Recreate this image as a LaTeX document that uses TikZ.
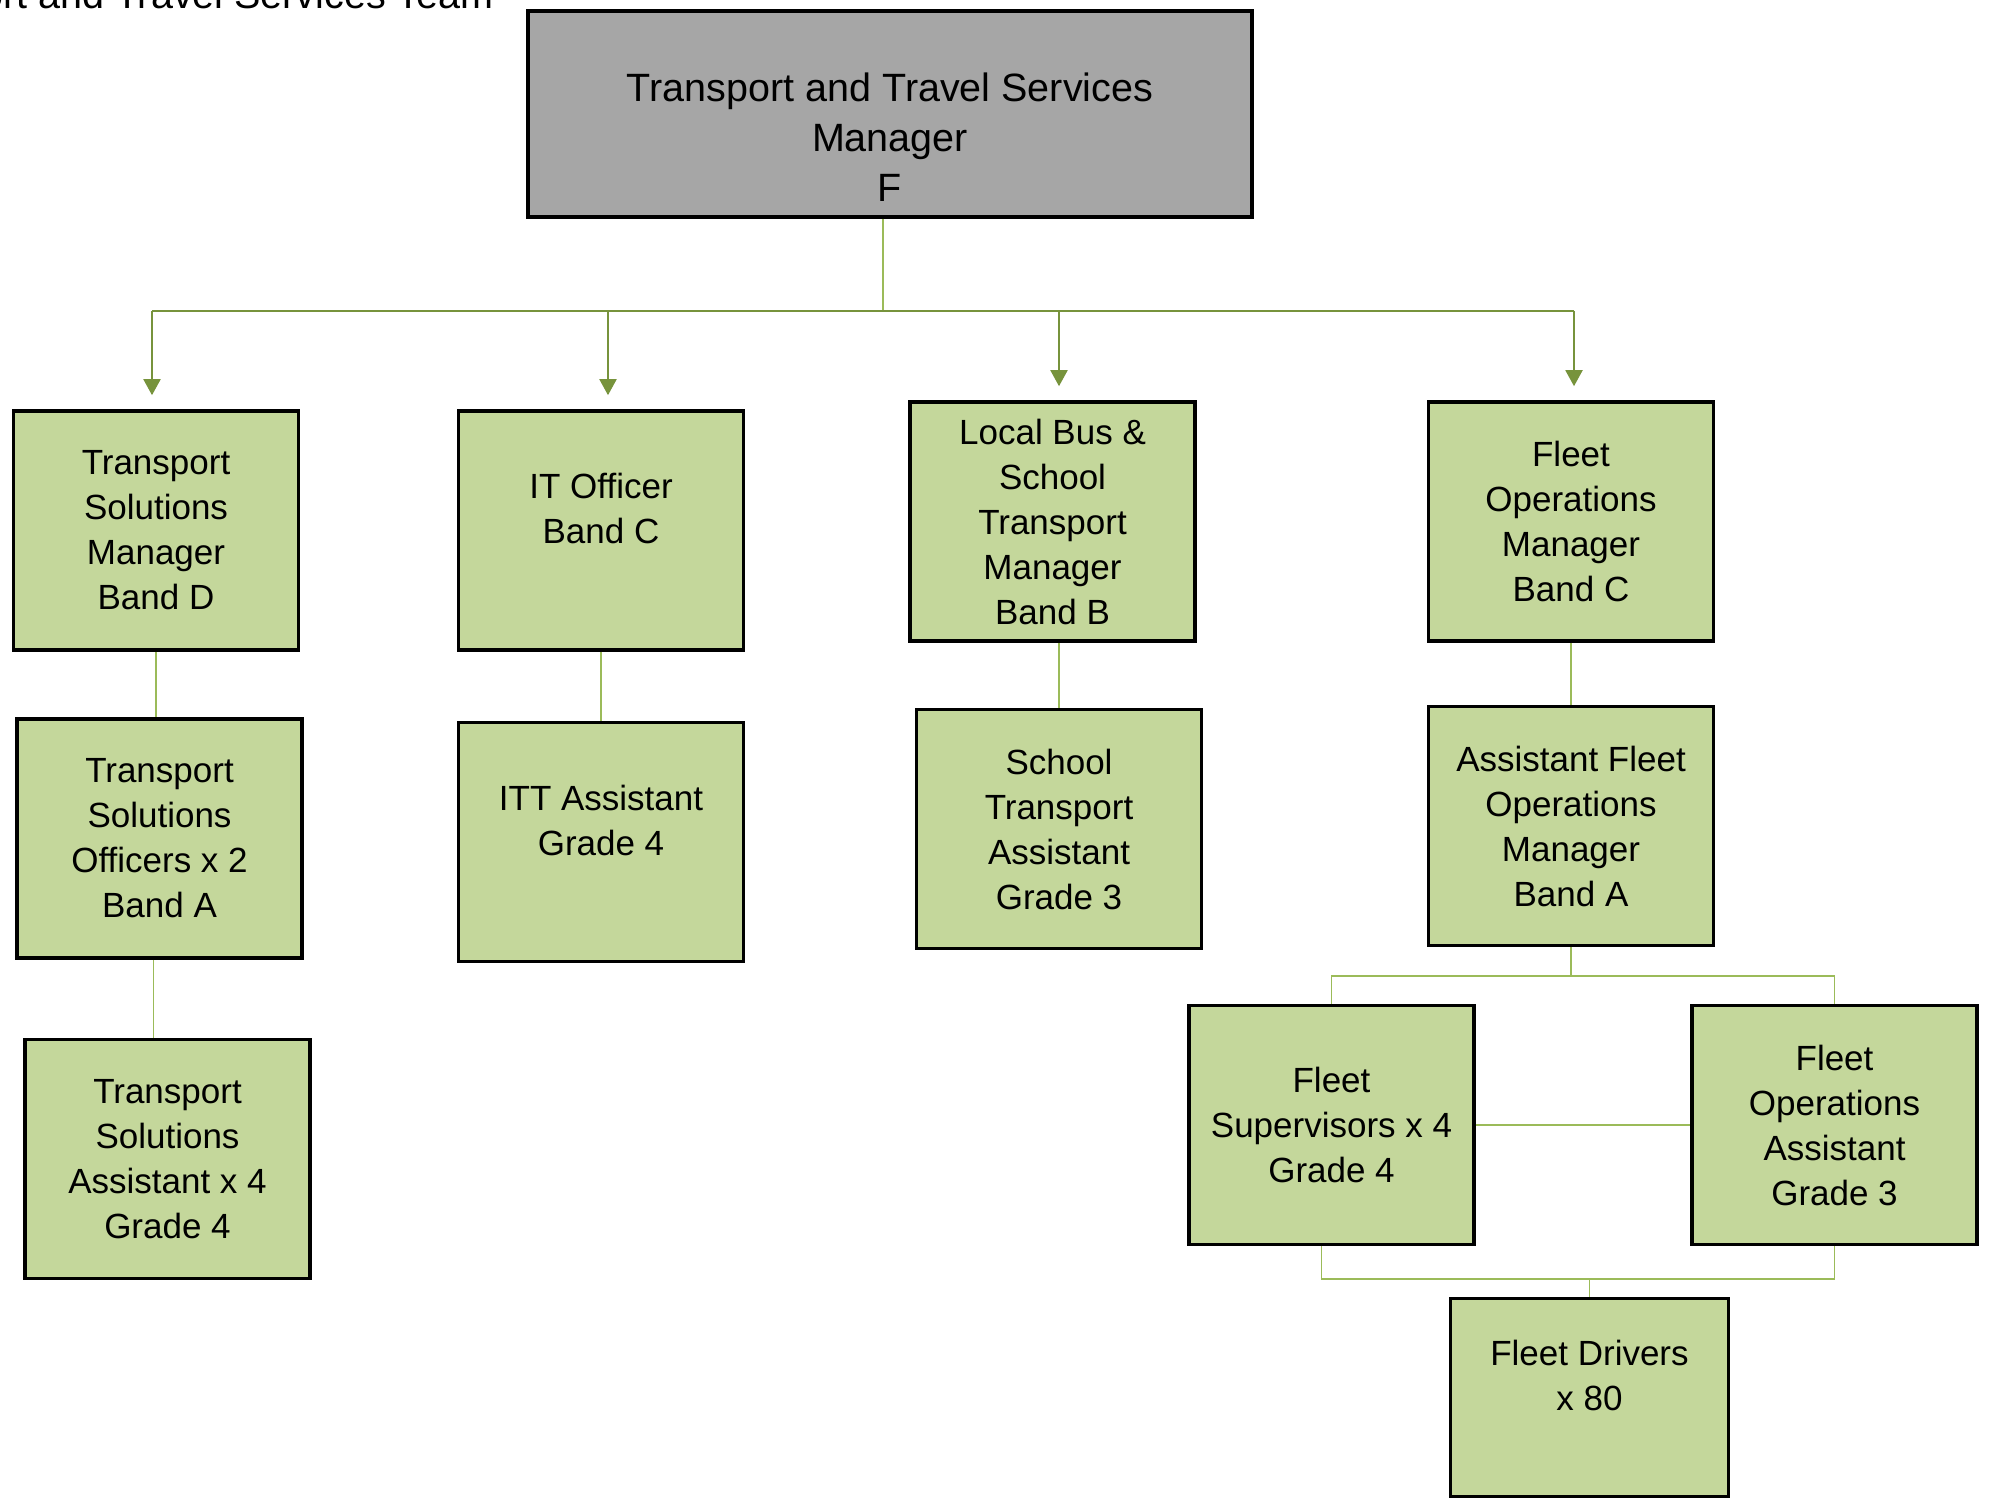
\documentclass[tikz,border=0pt]{standalone}
\usepackage{fontspec}
\setmainfont{Liberation Sans}
\usepackage{tikz}
\usetikzlibrary{arrows.meta}
\usetikzlibrary{positioning}

\definecolor{boxgreen}{HTML}{C4D79B}
\definecolor{boxgrey}{HTML}{A6A6A6}
\definecolor{linkgreen}{HTML}{9BBB59}
\definecolor{arrowgreen}{HTML}{77933C}

\begin{document}
\begin{tikzpicture}[x=0.5pt,y=-0.5pt,
	main node/.style={rectangle,draw=black,line width=1.8pt,fill=boxgreen,
		minimum width=142.5pt,minimum height=119.5pt,inner sep=0pt,align=center,
		font=\fontsize{17.5}{22.5}\selectfont},
	head node/.style={main node,fill=boxgrey,minimum width=362pt,minimum height=103pt,
		font=\fontsize{19.75}{25}\selectfont},
	link/.style={draw=linkgreen,line width=0.8pt},
	bus link/.style={draw=arrowgreen,line width=1pt},
	arrow link/.style={bus link,-{Triangle[width=8.5pt,length=8pt]},shorten >=7pt}]

	\useasboundingbox (0,0) rectangle (1997,1502);

	% heading, cut off by the page edge
	\begin{scope}
	\clip (0,0) rectangle (1997,1502);
	\node[anchor=base east,inner sep=0pt,font=\fontsize{19.75}{25}\selectfont] (team) at (494,9) {Transport and Travel Services Team};
	\end{scope}

	\node[head node] (ttsm) at (890,114) {\strut\\[-5pt]Transport and Travel Services\\Manager\\F};

	\node[main node] (tsm) at (156,530.5) {Transport\\Solutions\\Manager\\Band D};
	\node[main node] (ito) at (601,530.5) {IT Officer\\Band C\\[-7.5pt]\strut};
	\node[main node] (lbs) at (1052.5,521.5) {Local Bus \&\\School\\Transport\\Manager\\Band B};
	\node[main node] (fom) at (1571,521.5) {Fleet\\Operations\\Manager\\Band C};

	\node[main node] (tso) at (159.5,838.5) {Transport\\Solutions\\Officers x 2\\Band A};
	\node[main node] (itt) at (601,842) {ITT Assistant\\Grade 4\\[-7.5pt]\strut};
	\node[main node] (sta) at (1059,829) {School\\Transport\\Assistant\\Grade 3};
	\node[main node] (afom) at (1571,826) {Assistant Fleet\\Operations\\Manager\\Band A};

	\node[main node] (tsa) at (167.5,1159) {Transport\\Solutions\\Assistant x 4\\Grade 4};
	\node[main node] (fsu) at (1331.5,1125) {Fleet\\Supervisors x 4\\Grade 4};
	\node[main node] (foa) at (1834.5,1125) {Fleet\\Operations\\Assistant\\Grade 3};
	\node[main node,minimum width=139pt,minimum height=99pt] (fdr) at (1589.5,1397.5) {Fleet Drivers\\x 80\\[-7.5pt]\strut};

	% top level
	\coordinate (hub) at (883,311);
	\coordinate (busL) at (152,311);
	\coordinate (busR) at (1574,311);
	\draw[link] (hub |- ttsm.south) -- (hub);
	\draw[bus link] (busL) -- (busR);
	\foreach \n/\x in {tsm/152,ito/608,lbs/1059,fom/1574}{
		\coordinate (\n-in) at (\x,311);
		\draw[arrow link] (\n-in) -- (\n-in |- \n.north);
	}

	% columns
	\draw[link] (tsm.south) -- (tsm.south |- tso.north);
	\draw[link] ([xshift=-3pt]tso.south) -- ([xshift=-3pt]tso.south |- tsa.north);
	\draw[link] (ito.south) -- (ito.south |- itt.north);
	\draw[link] (sta.north |- lbs.south) -- (sta.north);
	\draw[link] (fom.south) -- (afom.north);

	% fleet
	\coordinate (fhub) at (1571,976);
	\coordinate (dhub) at (1589.5,1279);
	\draw[link] (afom.south) -- (fhub);
	\draw[link] (fsu.north) |- (fhub) -| (foa.north);
	\draw[link] (fsu.east) -- (foa.west);
	\draw[link] ([xshift=-5pt]fsu.south) |- (dhub) -| (foa.south);
	\draw[link] (dhub) -- (fdr.north);
\end{tikzpicture}
\end{document}
